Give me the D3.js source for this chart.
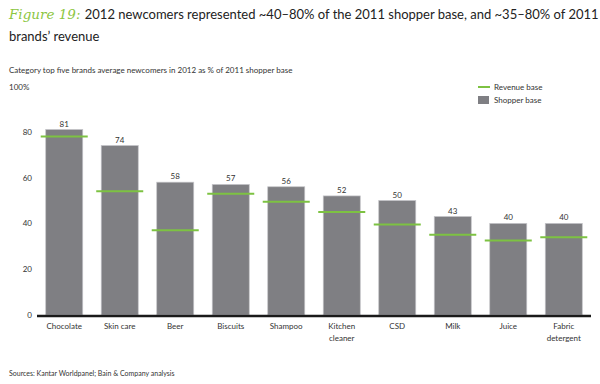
<!DOCTYPE html>
<html>
<head>
<meta charset="utf-8">
<script src="https://cdn.jsdelivr.net/npm/d3@7"></script>
<style>
  body { margin: 0; background: #fff; }
  text { font-family: "Lato", "Noto Sans", sans-serif; fill: #333; }
</style>
</head>
<body>
<div id="chart"></div>
<script>
// data
const categories = ["Chocolate", "Skin care", "Beer", "Biscuits", "Shampoo",
                    "Kitchen cleaner", "CSD", "Milk", "Juice", "Fabric detergent"];
const wrapped = { "Kitchen cleaner": ["Kitchen", "cleaner"], "Fabric detergent": ["Fabric", "detergent"] };
const shopperBase = [81, 74, 58, 57, 56, 52, 50, 43, 40, 40];
const revenueBase = [78, 54, 37, 53, 49.5, 45, 39.5, 35, 32.5, 34];
const yTicks = [0, 20, 40, 60, 80];

const width = 600, height = 384;
const green = "#7dc242";
const barGray = "#7f7f83";

const svg = d3.select("#chart").append("svg")
    .attr("width", width)
    .attr("height", height);

// title
const title = svg.append("text").attr("x", 9).attr("y", 19);
title.append("tspan")
    .style("font-family", "'DejaVu Serif', serif")
    .style("font-style", "italic")
    .style("font-size", "13.5px")
    .style("fill", "#8cc63f")
    .text("Figure 19: ");
title.append("tspan")
    .style("font-size", "13px")
    .style("fill", "#222")
    .text("2012 newcomers represented ~40–80% of the 2011 shopper base, and ~35–80% of 2011");
svg.append("text")
    .attr("x", 9).attr("y", 41)
    .style("font-size", "13px")
    .style("fill", "#222")
    .text("brands’ revenue");

svg.append("text")
    .attr("x", 9).attr("y", 73)
    .style("font-size", "8px")
    .text("Category top five brands average newcomers in 2012 as % of 2011 shopper base");

svg.append("text")
    .attr("x", 9).attr("y", 90)
    .style("font-size", "8px")
    .text("100%");

// scales
const x = d3.scaleBand()
    .domain(categories)
    .range([37, 591])
    .paddingInner(0.333)
    .paddingOuter(0.157);

const y = d3.scaleLinear()
    .domain([0, 100])
    .range([315, 86]);

// y tick labels
svg.append("g")
    .selectAll("text")
    .data(yTicks)
    .join("text")
    .attr("x", 32)
    .attr("y", d => y(d) + 3)
    .attr("text-anchor", "end")
    .style("font-size", "8px")
    .text(d => d);

// bars
svg.append("g")
    .selectAll("rect")
    .data(categories)
    .join("rect")
    .attr("x", d => x(d))
    .attr("y", (d, i) => y(shopperBase[i]))
    .attr("width", x.bandwidth())
    .attr("height", (d, i) => y(0) - y(shopperBase[i]))
    .attr("fill", barGray)
    .attr("stroke", "#c4c4c8")
    .attr("stroke-width", 0.7);

// value labels
svg.append("g")
    .selectAll("text")
    .data(categories)
    .join("text")
    .attr("x", d => x(d) + x.bandwidth() / 2)
    .attr("y", (d, i) => y(shopperBase[i]) - 3)
    .attr("text-anchor", "middle")
    .style("font-size", "8px")
    .text((d, i) => shopperBase[i]);

// revenue lines
const ext = 5;
svg.append("g")
    .selectAll("line")
    .data(categories)
    .join("line")
    .attr("x1", d => x(d) - ext)
    .attr("x2", d => x(d) + x.bandwidth() + ext)
    .attr("y1", (d, i) => y(revenueBase[i]))
    .attr("y2", (d, i) => y(revenueBase[i]))
    .attr("stroke", green)
    .attr("stroke-width", 2);

// baseline
svg.append("line")
    .attr("x1", 37).attr("x2", 591)
    .attr("y1", y(0) + 1).attr("y2", y(0) + 1)
    .attr("stroke", "#1a1a1a")
    .attr("stroke-width", 2.5);

// category labels
svg.append("g")
    .selectAll("text")
    .data(categories)
    .join("text")
    .attr("x", d => x(d) + x.bandwidth() / 2)
    .attr("y", 329)
    .attr("text-anchor", "middle")
    .style("font-size", "8px")
    .each(function(d) {
        const t = d3.select(this);
        const lines = wrapped[d] || [d];
        lines.forEach((w, j) => {
            t.append("tspan")
                .attr("x", x(d) + x.bandwidth() / 2)
                .attr("dy", j === 0 ? 0 : 12)
                .text(w);
        });
    });

// legend
svg.append("line")
    .attr("x1", 478).attr("x2", 490)
    .attr("y1", 87).attr("y2", 87)
    .attr("stroke", green)
    .attr("stroke-width", 2);
svg.append("text")
    .attr("x", 494).attr("y", 90)
    .style("font-size", "8px")
    .text("Revenue base");
svg.append("rect")
    .attr("x", 478).attr("y", 96)
    .attr("width", 11).attr("height", 8)
    .attr("fill", barGray);
svg.append("text")
    .attr("x", 494).attr("y", 103)
    .style("font-size", "8px")
    .text("Shopper base");

// source
svg.append("text")
    .attr("x", 9).attr("y", 376)
    .style("font-size", "7px")
    .text("Sources: Kantar Worldpanel; Bain & Company analysis");
</script>
</body>
</html>
